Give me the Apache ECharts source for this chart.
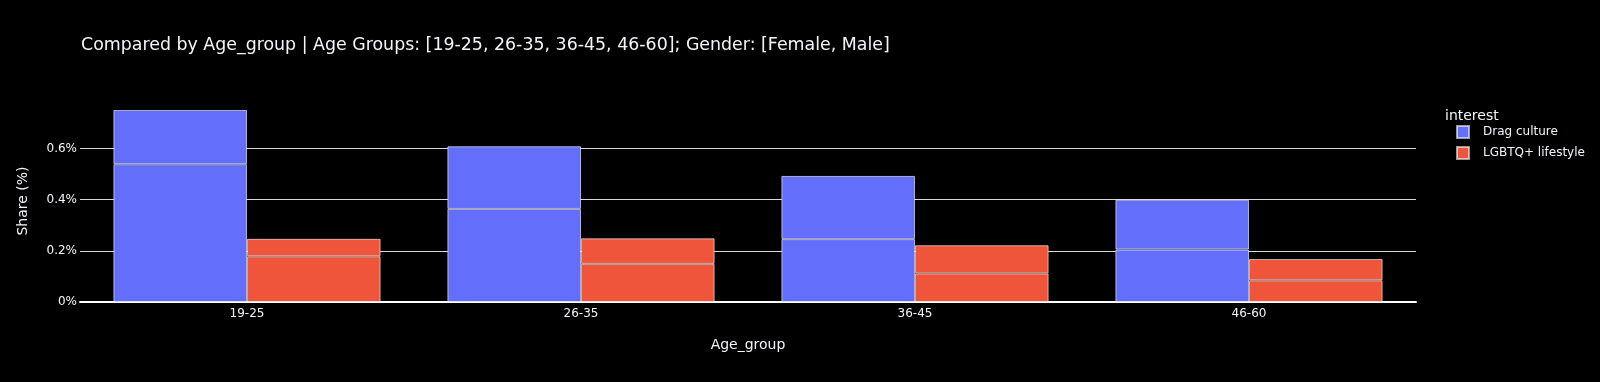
<!DOCTYPE html>
<html>
<head>
<meta charset="utf-8">
<script src="https://cdn.jsdelivr.net/npm/echarts@6/dist/echarts.min.js"></script>
<style>html,body{margin:0;padding:0;background:#000;}#c{width:1600px;height:382px;}</style>
</head>
<body>
<div id="c"></div>
<script>
const categories = ['19-25', '26-35', '36-45', '46-60'];
// stacked segments (lower = Female, upper = Male), values in %
const dragFemale = [0.539, 0.364, 0.246, 0.205];
const dragMale   = [0.212, 0.245, 0.247, 0.195];
const lgbtFemale = [0.179, 0.149, 0.112, 0.085];
const lgbtMale   = [0.068, 0.100, 0.110, 0.083];
const yTicks = [0, 0.2, 0.4, 0.6];

const FONT = '"DejaVu Sans", Verdana, sans-serif';
const TXT = '#f2f5fa';
const chart = echarts.init(document.getElementById('c'), null, {renderer: 'canvas'});
const border = {borderColor: 'rgba(255,255,255,0.6)', borderWidth: 1};
function bar(name, stack, color, data) {
  return {
    name, type: 'bar', stack, data,
    barWidth: '40%', barGap: '0%',
    itemStyle: Object.assign({color}, border),
    emphasis: {disabled: true}
  };
}
chart.setOption({
  backgroundColor: '#000',
  animation: false,
  textStyle: {fontFamily: FONT, color: TXT},
  title: [
    {text: 'Compared by Age_group | Age Groups: [19-25, 26-35, 36-45, 46-60]; Gender: [Female, Male]',
     left: 76, top: 32, textStyle: {fontFamily: FONT, fontSize: 17.4, fontWeight: 'normal', color: TXT}},
    {text: 'interest', left: 1440, top: 104,
     textStyle: {fontFamily: FONT, fontSize: 14, fontWeight: 'normal', color: TXT}}
  ],
  legend: {
    orient: 'vertical', left: 1451, top: 120,
    itemWidth: 12, itemHeight: 12, itemGap: 7,
    icon: 'rect',
    data: ['Drag culture', 'LGBTQ+ lifestyle'],
    textStyle: {fontFamily: FONT, fontSize: 12, color: TXT, padding: [0, 0, 0, 9]}
  },
  grid: {left: 80, right: 184, top: 100, bottom: 80, containLabel: false},
  xAxis: {
    type: 'category', data: categories,
    name: 'Age_group', nameLocation: 'middle', nameGap: 36,
    nameTextStyle: {fontFamily: FONT, fontSize: 14, color: TXT},
    axisLine: {show: true, lineStyle: {color: '#ffffff', width: 2}},
    axisTick: {show: false},
    axisLabel: {fontFamily: FONT, fontSize: 12, color: TXT, margin: 6},
    splitLine: {show: false}
  },
  yAxis: {
    type: 'value', min: 0, max: 0.79, interval: 0.2,
    name: 'Share (%)', nameLocation: 'middle', nameGap: 50, nameRotate: 90,
    nameTextStyle: {fontFamily: FONT, fontSize: 14, color: TXT},
    axisLine: {show: false},
    axisTick: {show: false, customValues: yTicks},
    axisLabel: {fontFamily: FONT, fontSize: 12, color: TXT, margin: 3, customValues: yTicks,
                formatter: v => (+v.toFixed(2)) + '%'},
    splitLine: {show: true, lineStyle: {color: '#d9d9d9', width: 1}}
  },
  series: [
    bar('Drag culture', 'drag', '#636efa', dragFemale),
    bar('Drag culture', 'drag', '#636efa', dragMale),
    bar('LGBTQ+ lifestyle', 'lgbt', '#ef553b', lgbtFemale),
    bar('LGBTQ+ lifestyle', 'lgbt', '#ef553b', lgbtMale)
  ]
});
</script>
</body>
</html>
